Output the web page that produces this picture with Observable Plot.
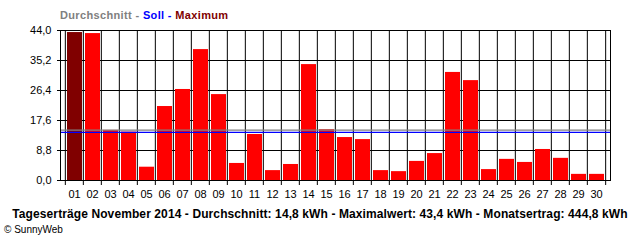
<!DOCTYPE html>
<html>
<head>
<meta charset="utf-8">
<script src="https://cdn.jsdelivr.net/npm/d3@7"></script>
<script src="https://cdn.jsdelivr.net/npm/@observablehq/plot@0.6"></script>
<style>
  body { margin: 0; background: #fff; }
  #wrap { position: relative; width: 640px; height: 240px; overflow: hidden; font-family: "Liberation Sans", Arial, sans-serif; }
  #title { position: absolute; left: 60px; top: 9px; font-size: 11px; font-weight: bold; white-space: nowrap; letter-spacing: 0.35px; }
  #caption { position: absolute; left: 0; width: 640px; top: 207px; text-align: center; font-size: 12px; font-weight: bold; white-space: nowrap; letter-spacing: 0.1px; }
  #credit { position: absolute; left: 4px; top: 224px; font-size: 10px; white-space: nowrap; }
  #chart { position: absolute; left: 0; top: 0; }
</style>
</head>
<body>
<div id="wrap">
  <div id="chart"></div>
  <div id="title"><span style="color:#808080">Durchschnitt - </span><span style="color:#0000ff">Soll - </span><span style="color:#800000">Maximum</span></div>
  <div id="caption">Tageserträge November 2014 - Durchschnitt: 14,8 kWh - Maximalwert: 43,4 kWh - Monatsertrag: 444,8 kWh</div>
  <div id="credit">© SunnyWeb</div>
</div>
<script>
const days = ["01","02","03","04","05","06","07","08","09","10","11","12","13","14","15","16","17","18","19","20","21","22","23","24","25","26","27","28","29","30"];
const values = [43.4,43.1,14.7,14.2,3.9,21.7,26.7,38.4,25.2,5.0,13.5,2.9,4.7,34.0,14.9,12.6,12.0,2.9,2.6,5.6,7.9,31.7,29.3,3.2,6.2,5.3,9.1,6.5,1.8,1.8];
const yTicks = [0, 8.8, 17.6, 26.4, 35.2, 44.0];
const average = 14.8;
const target = 14.1;

const data = days.map((d, i) => ({day: d, value: values[i]}));
const maxVal = d3.max(values);

const W = 640, H = 240, mL = 60, mR = 30, mT = 30, mB = 60;
const bw = (W - mL - mR) / days.length;
const fmt = v => v.toFixed(1).replace(".", ",");

const chart = Plot.plot({
  width: W, height: H,
  marginLeft: mL, marginRight: mR, marginTop: mT, marginBottom: mB,
  style: {fontFamily: "Liberation Sans, Arial, sans-serif", fontSize: "11px", color: "black", background: "white"},
  x: {type: "band", domain: days, padding: 0, axis: null, label: null},
  y: {domain: [0, 44], axis: null, label: null},
  marks: [
    Plot.ruleY(yTicks, {stroke: "black", insetLeft: -3}),
    Plot.ruleX(days, {stroke: "black", dx: -bw / 2, insetBottom: -5}),
    Plot.ruleX([days[days.length - 1]], {stroke: "black", dx: bw / 2, insetBottom: -5}),
    Plot.barY(data, {x: "day", y: "value", fill: d => d.value === maxVal ? "#800000" : "#ff0000", insetLeft: 2, insetRight: 1}),
    Plot.ruleY([average], {stroke: "#808080", strokeWidth: 1.2}),
    Plot.ruleY([target], {stroke: "#0000ff", strokeWidth: 1.2}),
    Plot.axisY({ticks: yTicks, tickSize: 0, tickPadding: 9, tickFormat: fmt, fill: "black", label: null}),
    Plot.axisX({tickSize: 0, tickPadding: 10, fill: "black", label: null}),
    Plot.frame({stroke: "black"})
  ]
});
document.getElementById("chart").appendChild(chart);
</script>
</body>
</html>
